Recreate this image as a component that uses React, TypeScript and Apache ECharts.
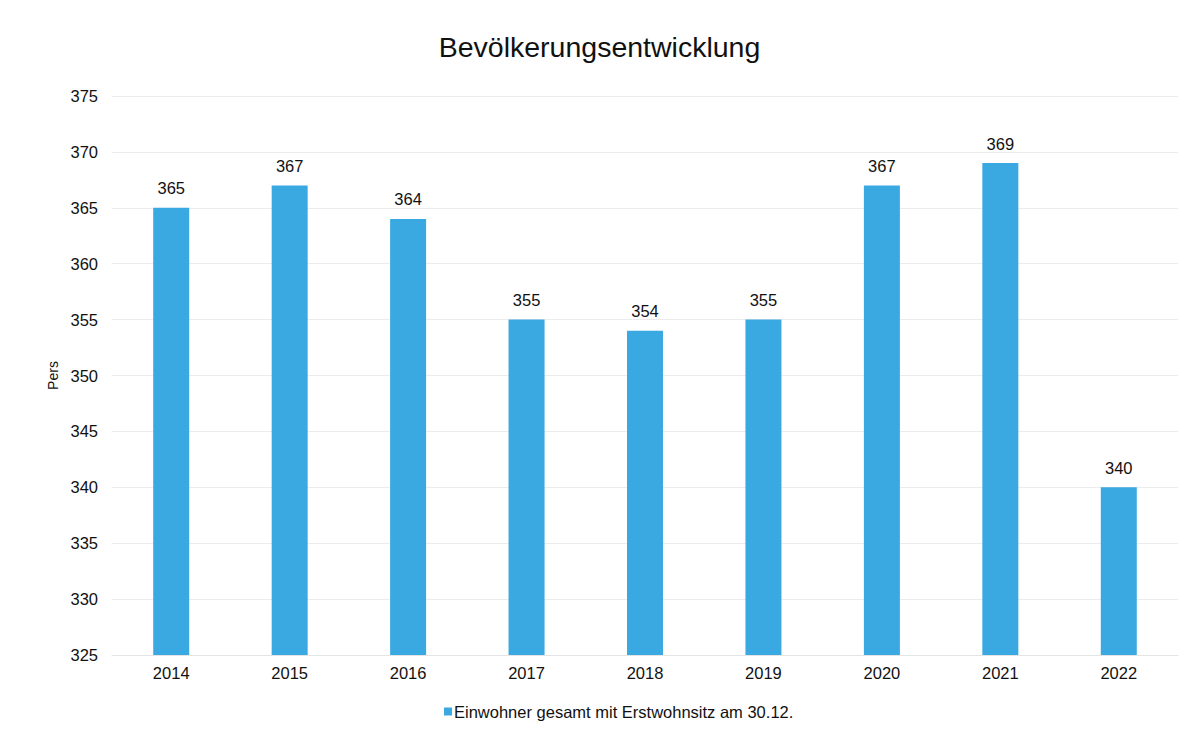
import React, { useEffect, useRef } from "react";
import * as echarts from "echarts";

const categories = ["2014", "2015", "2016", "2017", "2018", "2019", "2020", "2021", "2022"];
const values = [365, 367, 364, 355, 354, 355, 367, 369, 340];
const seriesName = "Einwohner gesamt mit Erstwohnsitz am 30.12.";
const title = "Bevölkerungsentwicklung";
const yAxisName = "Pers";

export default function App() {
  const ref = useRef<HTMLDivElement>(null);
  useEffect(() => {
    if (!ref.current) return;
    const chart = echarts.init(ref.current, null, { renderer: "svg" });
    chart.setOption({
      animation: false,
      backgroundColor: "#ffffff",
      textStyle: { fontFamily: "Liberation Sans, Arial, sans-serif" },
      title: {
        text: title,
        left: "center",
        top: 19,
        textStyle: { fontSize: 28.5, fontWeight: "normal", color: "#111" },
      },
      grid: { left: 104, right: 13, top: 88, bottom: 80 },
      legend: {
        bottom: 10,
        left: 431,
        itemWidth: 8,
        itemHeight: 8,
        itemGap: 4,
        icon: "rect",
        textStyle: { fontSize: 16.5, color: "#111", padding: [0, 0, 0, -3] },
        data: [seriesName],
      },
      xAxis: {
        type: "category",
        data: categories,
        axisLine: { show: true, lineStyle: { color: "#e4e4e4" } },
        axisTick: { show: false },
        axisLabel: { fontSize: 16.5, color: "#111", margin: 9 },
      },
      yAxis: {
        type: "value",
        min: 325,
        max: 375,
        interval: 5,
        name: yAxisName,
        nameLocation: "middle",
        nameGap: 47,
        nameRotate: 90,
        nameTextStyle: { fontSize: 14, color: "#111" },
        axisLine: { show: false },
        axisTick: { show: false },
        axisLabel: { fontSize: 16.5, color: "#111", margin: 14 },
        splitLine: { lineStyle: { color: "#ececec" } },
      },
      series: [
        {
          name: seriesName,
          type: "bar",
          data: values,
          barWidth: 36,
          itemStyle: { color: "#3aa8e1" },
          label: {
            show: true,
            position: "top",
            fontSize: 16.5,
            color: "#111",
            distance: 11,
          },
        },
      ],
    });
    return () => chart.dispose();
  }, []);
  return <div ref={ref} style={{ width: 1183, height: 727 }} />;
}
